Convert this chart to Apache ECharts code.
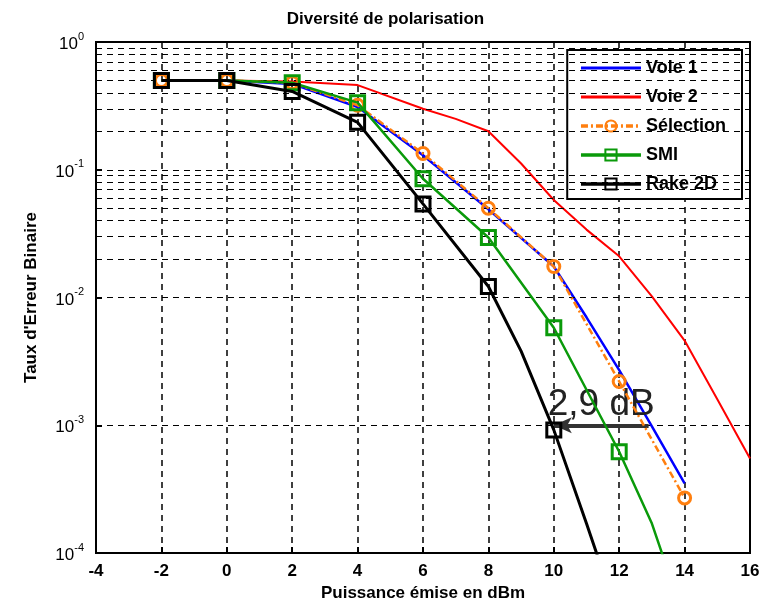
<!DOCTYPE html>
<html>
<head>
<meta charset="utf-8">
<script src="https://cdn.jsdelivr.net/npm/echarts@6/dist/echarts.min.js"></script>
<style>
  html, body { margin: 0; padding: 0; background: #fff; }
  #chart { width: 771px; height: 608px; }
</style>
</head>
<body>
<div id="chart"></div>
<script>
// données (Puissance en dBm / TEB)
const voie1X = [-2, 0, 2, 4, 6, 8, 10, 11, 12, 13, 14]
const voie1Y = [0.5, 0.5, 0.47, 0.31, 0.13, 0.049, 0.0175, 0.0070, 0.0027, 0.00098, 0.00035]

const voie2X = [-2, 0, 2, 4, 6, 7, 8, 9, 10, 11, 12, 13, 14, 15, 16]
const voie2Y = [0.5, 0.5, 0.49, 0.46, 0.30, 0.25, 0.20, 0.112, 0.058, 0.034, 0.021, 0.0102, 0.0046, 0.0016, 0.00055]

const selX = [-2, 0, 2, 4, 6, 8, 10, 12, 14]
const selY = [0.5, 0.5, 0.48, 0.32, 0.134, 0.05, 0.0175, 0.0022, 0.00027]

const smiX = [-2, 0, 2, 4, 6, 8, 10, 12, 13, 14]
const smiY = [0.5, 0.5, 0.48, 0.335, 0.085, 0.0295, 0.0058, 0.00062, 0.00017, 0.00003]
const smiMarks = [-2, 0, 2, 4, 6, 8, 10, 12]

const rakeX = [-2, 0, 2, 4, 6, 8, 9, 10, 11, 12]
const rakeY = [0.5, 0.5, 0.41, 0.235, 0.054, 0.0122, 0.0038, 0.00092, 0.00017, 0.00003]
const rakeMarks = [-2, 0, 2, 4, 6, 8, 10]

const xTicks = [-4, -2, 0, 2, 4, 6, 8, 10, 12, 14, 16]
const yDecades = [-4, -3, -2, -1, 0]
const gainStart = 10
const gainDb = 2.9
const gainLevel = 1e-3

// lignes mineures de la grille log (2..9 x 10^k)
const minorGrid = []
for (let k = -4; k < 0; k++) {
  for (let m = 2; m <= 9; m++) minorGrid.push(m * Math.pow(10, k))
}

function pts (xs, ys, marks) {
  return xs.map(function (x, i) {
    const p = { value: [x, ys[i]] }
    if (marks && marks.indexOf(x) < 0) p.symbol = 'none'
    return p
  })
}

const font = 'Liberation Sans, Arial, sans-serif'
// icône de légende : simple trait
const lineIcon = 'path://M0,5.5L60,5.5L60,8.5L0,8.5Z'
const chart = echarts.init(document.getElementById('chart'))

chart.setOption({
  animation: false,
  backgroundColor: '#fff',
  title: {
    text: 'Diversité de polarisation',
    left: 'center',
    top: 6,
    textStyle: { fontFamily: font, fontSize: 17, fontWeight: 'bold', color: '#000' }
  },
  grid: {
    left: 96, right: 21, top: 42, bottom: 55,
    show: true, borderColor: '#000', borderWidth: 2
  },
  legend: {
    data: [
      { name: 'Voie 1', icon: lineIcon },
      { name: 'Voie 2', icon: lineIcon },
      'Sélection', 'SMI', 'Rake 2D'
    ],
    orient: 'vertical',
    right: 29,
    top: 50,
    itemWidth: 60,
    itemHeight: 14,
    itemGap: 11,
    padding: [9, 16, 6, 12],
    backgroundColor: '#fff',
    borderColor: '#000',
    borderWidth: 2,
    borderRadius: 0,
    lineStyle: { width: 3.5 },
    textStyle: { fontFamily: font, fontSize: 18, fontWeight: 'bold', color: '#000' }
  },
  xAxis: {
    type: 'value',
    min: -4,
    max: 16,
    interval: 2,
    name: 'Puissance émise en dBm',
    nameLocation: 'middle',
    nameGap: 32,
    nameTextStyle: { fontFamily: font, fontSize: 17, fontWeight: 'bold', color: '#000' },
    axisLine: { onZero: false, lineStyle: { color: '#000', width: 2 } },
    axisTick: { inside: true, length: 6, lineStyle: { color: '#000', width: 2 } },
    axisLabel: {
      margin: 10,
      fontFamily: font, fontSize: 17, fontWeight: 'bold', color: '#000',
      customValues: xTicks
    },
    splitLine: { show: true, lineStyle: { color: '#000', type: [6, 5], width: 1.5 } }
  },
  yAxis: {
    type: 'log',
    logBase: 10,
    min: 1e-4,
    max: 1,
    name: "Taux d'Erreur Binaire",
    nameLocation: 'middle',
    nameGap: 56,
    nameTextStyle: { fontFamily: font, fontSize: 17, fontWeight: 'bold', color: '#000' },
    axisLine: { show: true, onZero: false, lineStyle: { color: '#000', width: 2 } },
    axisTick: { inside: true, length: 6, lineStyle: { color: '#000', width: 2 } },
    axisLabel: {
      margin: 12,
      formatter: function (v) {
        const e = Math.round(Math.log10(v))
        if (yDecades.indexOf(e) < 0) return ''
        return '{b|10}{s|' + e + '}'
      },
      rich: {
        b: { fontFamily: font, fontSize: 17, color: '#000', lineHeight: 22, verticalAlign: 'bottom' },
        s: { fontFamily: font, fontSize: 11, color: '#000', lineHeight: 22, verticalAlign: 'top', padding: [0, 0, 8, 0] }
      }
    },
    splitLine: { show: true, lineStyle: { color: '#000', type: [6, 5], width: 1 } }
  },
  series: [
    {
      name: 'grille',
      type: 'line',
      data: [],
      silent: true,
      z: 1,
      markLine: {
        silent: true,
        symbol: ['none', 'none'],
        label: { show: false },
        lineStyle: { color: '#000', type: [6, 5], width: 1 },
        data: minorGrid.map(function (v) { return { yAxis: v } })
      }
    },
    {
      name: 'Voie 2',
      type: 'line',
      symbol: 'none',
      data: pts(voie2X, voie2Y),
      lineStyle: { color: '#ff0000', width: 2 },
      itemStyle: { color: '#ff0000' },
      z: 3
    },
    {
      name: 'Voie 1',
      type: 'line',
      symbol: 'none',
      data: pts(voie1X, voie1Y),
      lineStyle: { color: '#0000ff', width: 2.5 },
      itemStyle: { color: '#0000ff' },
      z: 4
    },
    {
      name: 'Sélection',
      type: 'line',
      symbol: 'circle',
      symbolSize: 12,
      data: pts(selX, selY),
      lineStyle: { color: '#ff7f0f', width: 2.5, type: [7, 3, 2, 3] },
      itemStyle: { color: 'rgba(0,0,0,0)', borderColor: '#ff7f0f', borderWidth: 3 },
      z: 5
    },
    {
      name: 'SMI',
      type: 'line',
      symbol: 'rect',
      symbolSize: 14,
      data: pts(smiX, smiY, smiMarks),
      lineStyle: { color: '#0a9a0a', width: 2.5 },
      itemStyle: { color: 'rgba(0,0,0,0)', borderColor: '#0a9a0a', borderWidth: 3 },
      z: 6
    },
    {
      name: 'Rake 2D',
      type: 'line',
      symbol: 'rect',
      symbolSize: 14,
      data: pts(rakeX, rakeY, rakeMarks),
      lineStyle: { color: '#000', width: 3 },
      itemStyle: { color: 'rgba(0,0,0,0)', borderColor: '#000', borderWidth: 3 },
      z: 7
    },
    {
      name: 'gain',
      type: 'line',
      data: [],
      z: 8,
      markLine: {
        silent: true,
        symbol: ['arrow', 'none'],
        symbolSize: [12, 18],
        lineStyle: { color: '#333', width: 4, type: 'solid' },
        label: {
          show: true,
          position: 'insideMiddleTop',
          distance: 2,
          formatter: gainDb.toFixed(1).replace('.', ',') + ' dB',
          fontFamily: font,
          fontSize: 37,
          color: '#222'
        },
        data: [[{ coord: [gainStart, gainLevel] }, { coord: [gainStart + gainDb, gainLevel] }]]
      }
    }
  ]
})
</script>
</body>
</html>
